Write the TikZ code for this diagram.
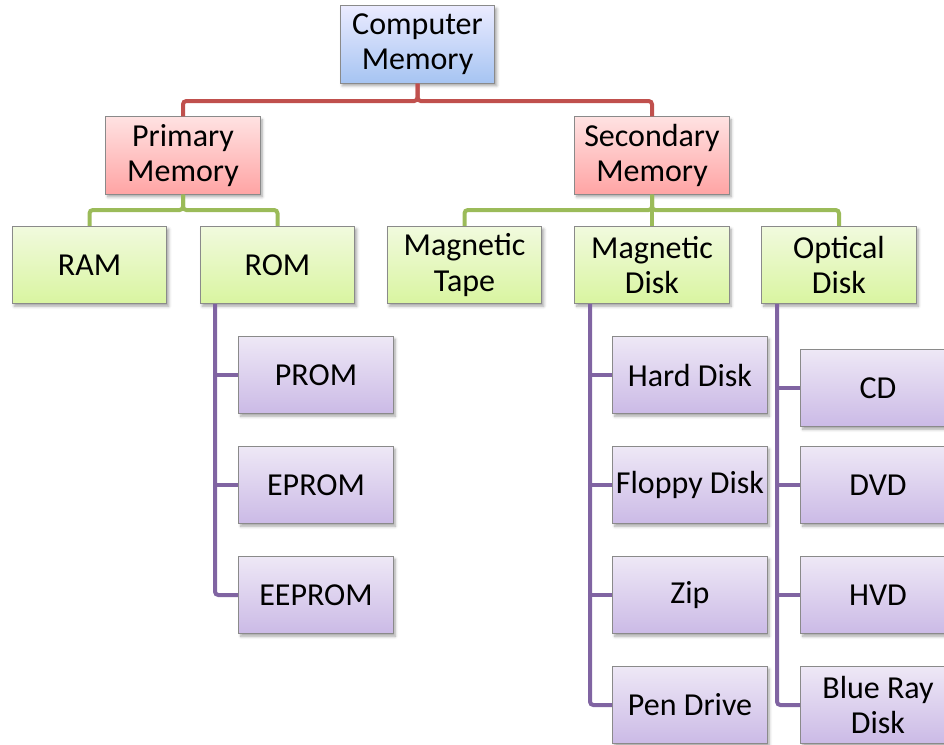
\documentclass[tikz,border=0pt]{standalone}
\usepackage{fontspec}
\setmainfont{Carlito}
\usetikzlibrary{shadows.blur}

\definecolor{lnred}{HTML}{C0504D}
\definecolor{lngreen}{HTML}{9BBB59}
\definecolor{lnpurple}{HTML}{8064A2}
\definecolor{boxedge}{HTML}{8A8A8A}

\tikzset{
  memblock/.style={draw=boxedge, line width=0.8pt, minimum width=116pt, minimum height=58pt,
    inner sep=0pt, align=center, font=\fontsize{24}{26.5}\selectfont,
    blur shadow={shadow xshift=1.5pt, shadow yshift=-2pt, shadow blur radius=2pt, shadow opacity=35}},
  rootbox/.style={memblock, top color=blue!8!white, bottom color={rgb,255:red,166;green,196;blue,242}},
  kindbox/.style={memblock, top color={rgb,255:red,255;green,226;blue,226}, bottom color={rgb,255:red,255;green,164;blue,164}},
  typebox/.style={memblock, top color={rgb,255:red,241;green,250;blue,222}, bottom color={rgb,255:red,217;green,245;blue,160}},
  devbox/.style={memblock, top color={rgb,255:red,238;green,232;blue,246}, bottom color={rgb,255:red,203;green,186;blue,230}},
  wire/.style={line width=3pt, rounded corners=2.5pt},
}

\begin{document}
\begin{tikzpicture}[x=0.75pt, y=-0.75pt]
\useasboundingbox (0,0) rectangle (944,744);

% top level
\node[rootbox] (comp) at (417.5,44.5) {Computer\\Memory};

% primary / secondary
\node[kindbox] (prim) at (183,155.5) {Primary\\Memory};
\node[kindbox] (sec)  at (652,155.5) {Secondary\\Memory};

% memory types
\node[typebox] (ram)   at (89.5,265)  {RAM};
\node[typebox] (rom)   at (277.5,265) {ROM};
\node[typebox] (tape)  at (464.5,265) {Magnetic\\Tape};
\node[typebox] (mdisk) at (652,265)   {Magnetic\\Disk};
\node[typebox] (odisk) at (839,265)   {Optical\\Disk};

% ROM family
\node[devbox] (prom)   at (316,375) {PROM};
\node[devbox] (eprom)  at (316,485) {EPROM};
\node[devbox] (eeprom) at (316,595) {EEPROM};

% magnetic disks
\node[devbox] (hard)   at (690,375) {Hard Disk};
\node[devbox] (floppy) at (690,485) {Floppy Disk};
\node[devbox] (zip)    at (690,595) {Zip};
\node[devbox] (pen)    at (690,705) {Pen Drive};

% optical disks
\node[devbox] (cd)  at (878,388) {CD};
\node[devbox] (dvd) at (878,485) {DVD};
\node[devbox] (hvd) at (878,595) {HVD};
\node[devbox] (blu) at (878,705) {Blue Ray\\Disk};

% bus levels and trunk positions
\coordinate (redbus) at (0,101);
\coordinate (greenbus) at (0,210);
\coordinate (romtrunk) at (215,0);
\coordinate (mdtrunk) at (590,0);
\coordinate (odtrunk) at (777,0);

% red connectors
\draw[wire, lnred] (comp.south) -- (comp.south |- redbus) -| (prim.north);
\draw[wire, lnred] (comp.south) -- (comp.south |- redbus) -| (sec.north);

% green connectors
\draw[wire, lngreen] (prim.south) -- (prim.south |- greenbus) -| (ram.north);
\draw[wire, lngreen] (prim.south) -- (prim.south |- greenbus) -| (rom.north);
\draw[wire, lngreen] (sec.south) -- (sec.south |- greenbus) -| (tape.north);
\draw[wire, lngreen] (sec.south) -- (sec.south |- greenbus) -| (mdisk.north);
\draw[wire, lngreen] (sec.south) -- (sec.south |- greenbus) -| (odisk.north);

% purple trunks
\draw[wire, lnpurple] (rom.south -| romtrunk) |- (eeprom.west);
\draw[wire, lnpurple] (prom.west -| romtrunk) -- (prom.west);
\draw[wire, lnpurple] (eprom.west -| romtrunk) -- (eprom.west);

\draw[wire, lnpurple] (mdisk.south -| mdtrunk) |- (pen.west);
\draw[wire, lnpurple] (hard.west -| mdtrunk) -- (hard.west);
\draw[wire, lnpurple] (floppy.west -| mdtrunk) -- (floppy.west);
\draw[wire, lnpurple] (zip.west -| mdtrunk) -- (zip.west);

\draw[wire, lnpurple] (odisk.south -| odtrunk) |- (blu.west);
\draw[wire, lnpurple] (cd.west -| odtrunk) -- (cd.west);
\draw[wire, lnpurple] (dvd.west -| odtrunk) -- (dvd.west);
\draw[wire, lnpurple] (hvd.west -| odtrunk) -- (hvd.west);
\end{tikzpicture}
\end{document}
